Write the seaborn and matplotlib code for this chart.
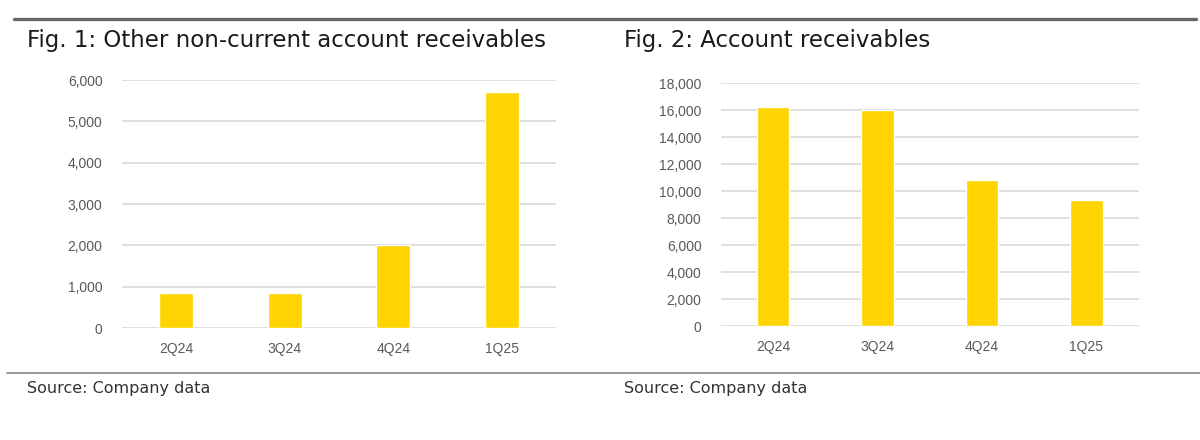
import matplotlib
matplotlib.use("Agg")
import matplotlib.pyplot as plt
import seaborn as sns
from matplotlib.lines import Line2D

# -----------------------------
# Data
# -----------------------------
quarters = ["2Q24", "3Q24", "4Q24", "1Q25"]
other_noncurrent = [850, 840, 2020, 5720]
account_receivables = [16200, 16000, 10800, 9350]

BAR = "#FFD400"
GRID = "#D9D9D9"
TICK = "#595959"

sns.set_theme(style="white")
plt.rcParams["font.family"] = ["Liberation Sans", "DejaVu Sans"]

fig = plt.figure(figsize=(12, 4.4), dpi=100)
ax1 = fig.add_axes([0.1017, 0.2545, 0.3617, 0.5636])
ax2 = fig.add_axes([0.6008, 0.259, 0.348, 0.5523])


def draw(ax, values, ymax, step):
    sns.barplot(x=quarters, y=values, color=BAR, width=0.31, saturation=1, ax=ax)
    ax.set_ylim(0, ymax)
    ax.set_yticks(range(0, ymax + 1, step))
    ax.set_yticklabels([f"{v:,}" for v in range(0, ymax + 1, step)])
    ax.yaxis.grid(True, color=GRID, linewidth=1.2)
    ax.set_axisbelow(True)
    for s in ax.spines.values():
        s.set_visible(False)
    ax.tick_params(axis="both", length=0, labelsize=10, labelcolor=TICK)
    ax.tick_params(axis="y", pad=14)
    ax.tick_params(axis="x", pad=10)
    ax.set_xlabel("")
    ax.set_ylabel("")


draw(ax1, other_noncurrent, 6000, 1000)
draw(ax2, account_receivables, 18000, 2000)

# -----------------------------
# Titles, rules and sources
# -----------------------------
fig.add_artist(Line2D([14 / 1200, 1196 / 1200], [0.957, 0.957], color="#666666", linewidth=2.4))
fig.add_artist(Line2D([7 / 1200, 1.0], [0.152, 0.152], color="#777777", linewidth=1.1))

title_kw = dict(fontsize=16.5, color="#1a1a1a", va="center", family=["DejaVu Sans"])
fig.text(27 / 1200, 0.909, "Fig. 1: Other non-current account receivables", **title_kw)
fig.text(624 / 1200, 0.909, "Fig. 2: Account receivables", **title_kw)

src_kw = dict(fontsize=11.5, color="#333333", va="center", family=["DejaVu Sans"])
fig.text(27 / 1200, 0.116, "Source: Company data", **src_kw)
fig.text(624 / 1200, 0.116, "Source: Company data", **src_kw)

fig.savefig("out.png", dpi=100)
